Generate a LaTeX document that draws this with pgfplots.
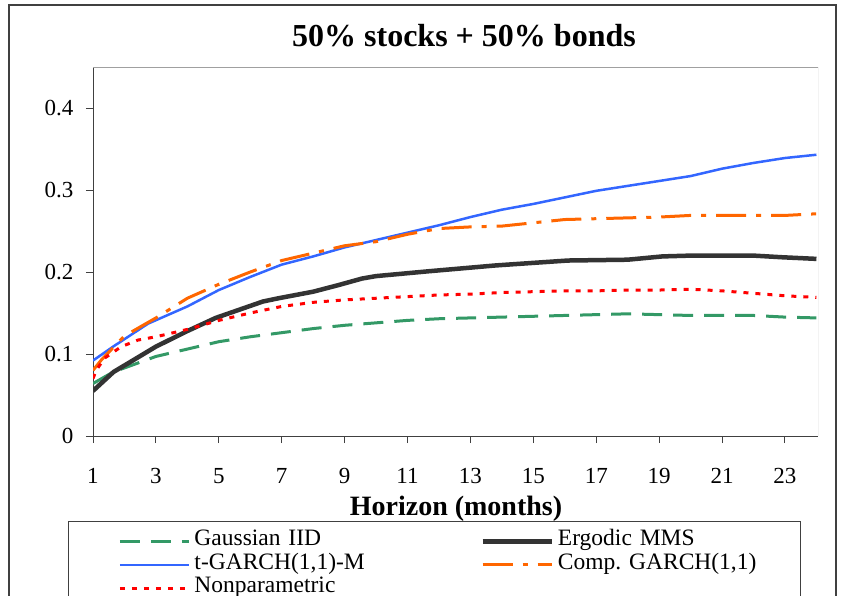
\documentclass[border=0pt]{standalone}
\usepackage{pgfplots}
\pgfplotsset{compat=1.18}
\usepackage{fontspec}
\setmainfont{Liberation Serif}
\definecolor{cgreen}{HTML}{339966}
\definecolor{cblack}{HTML}{333333}
\definecolor{cblue}{HTML}{3366FF}
\definecolor{corange}{HTML}{FF6600}
\definecolor{cred}{HTML}{FF0000}
\definecolor{cframe}{HTML}{404040}
\definecolor{cgray}{HTML}{A0A0A0}

\pgfplotstableread{
x y
1 0.064
1.64 0.078
2 0.083
3 0.097
4 0.106
5 0.115
6 0.121
7 0.126
8 0.131
9 0.135
10 0.138
11 0.141
12 0.143
13 0.144
14 0.145
15 0.146
16 0.147
17 0.148
18 0.149
19 0.148
20 0.147
21 0.147
22 0.147
23 0.145
24 0.144
}\gaussian

\pgfplotstableread{
x y
1 0.055
1.65 0.078
3 0.109
4 0.128
4.9 0.144
6.4 0.164
6.9 0.168
8 0.176
8.8 0.184
9.55 0.192
10 0.195
11.7 0.201
13.8 0.208
16.1 0.214
18 0.215
19.1 0.219
20 0.220
22 0.220
22.9 0.218
24 0.216
}\ergodic

\pgfplotstableread{
x y
1 0.092
1.64 0.109
2.75 0.137
4 0.158
5 0.178
6 0.194
7 0.209
8 0.219
9 0.230
10 0.239
11 0.248
12 0.257
13 0.267
14 0.276
15 0.283
16 0.291
17 0.299
18 0.305
19 0.311
20 0.317
21 0.326
22 0.333
23 0.339
24 0.343
}\tgarch

\pgfplotstableread{
x y
1 0.080
1.27 0.093
2 0.122
3 0.144
4 0.168
5 0.185
6 0.200
7 0.214
8 0.223
9 0.232
10 0.237
11 0.246
12 0.253
13 0.255
14 0.256
15 0.260
16 0.264
17 0.265
18 0.266
19 0.267
20 0.269
21 0.269
22 0.269
23 0.269
24 0.271
}\compgarch

\pgfplotstableread{
x y
1 0.070
1.1 0.080
1.37 0.095
1.9 0.109
2.43 0.117
3 0.121
4 0.130
5 0.141
6 0.150
7 0.158
8 0.163
9 0.166
10 0.168
11 0.170
12 0.172
13 0.173
14 0.175
15 0.176
16 0.177
17 0.177
18 0.178
19 0.178
20 0.179
21 0.177
22 0.174
23 0.171
24 0.169
}\nonpar

\begin{document}
\begin{tikzpicture}[x=1pt,y=1pt]
\path[use as bounding box] (0pt,0pt) rectangle (841pt,595pt);
\draw[line width=1.5pt, cframe] (9pt,-20pt) -- (9pt,590pt) -- (836pt,590pt) -- (836pt,-20pt);
\node[anchor=base, font=\bfseries\fontsize{32}{36}\selectfont] at (464pt,548pt) {50\% stocks + 50\% bonds};
\node[anchor=base, font=\bfseries\fontsize{28}{32}\selectfont] at (456pt,79.5pt) {Horizon (months)};
\begin{axis}[
  at={(93pt,159pt)}, anchor=south west,
  scale only axis, width=725pt, height=369pt,
  xmin=1, xmax=24.05, ymin=0, ymax=0.45,
  axis x line*=bottom, axis y line*=left,
  axis line style={cframe, line width=1pt},
  xtick={1,3,...,23}, ytick={0,0.1,0.2,0.3,0.4},
  tick align=outside, major tick length=7pt,
  tick style={cframe, line width=1pt},
  /pgf/number format/assume math mode=true,
  ticklabel style={font=\fontsize{23}{27}\selectfont},
  yticklabel style={/pgf/number format/fixed, /pgf/number format/precision=1, xshift=-9pt},
  xticklabel style={yshift=-22pt},
  legend columns=2,
  legend style={
    at={(axis description cs:-0.0345,-0.2304)}, anchor=north west,
    draw=cframe, line width=1pt, inner xsep=13pt, inner ysep=8pt,
    row sep=0pt,
    nodes={inner sep=0pt, text width=230pt, align=left, anchor=west, text height=16pt, text depth=7.5pt,
      font=\fontsize{23.5}{27}\selectfont},
    /tikz/every odd column/.append style={column sep=4pt},
    /tikz/every even column/.append style={column sep=19pt},
  },
  legend image code/.code={\path (-37pt,0pt); \draw[#1] (0pt,0pt) -- (69pt,0pt);},
]
\draw[cgray, line width=1pt] (rel axis cs:0,1) -- (rel axis cs:1,1) -- (rel axis cs:1,0);
\addplot[cgreen, line width=3pt, dash pattern=on 20pt off 11pt] table {\gaussian};
\addlegendentry{Gaussian IID}
\addplot[cblack, line width=4.5pt] table {\ergodic};
\addlegendentry{Ergodic MMS}
\addplot[cblue, line width=2.5pt] table {\tgarch};
\addlegendentry{t-GARCH(1,1)-M}
\addplot[corange, line width=3pt, dash pattern=on 30pt off 10pt on 5pt off 10pt] table {\compgarch};
\addlegendentry{Comp.\ GARCH(1,1)}
\addplot[cred, line width=3pt, dash pattern=on 5pt off 7pt] table {\nonpar};
\addlegendentry{Nonparametric}
\end{axis}
\end{tikzpicture}
\end{document}
